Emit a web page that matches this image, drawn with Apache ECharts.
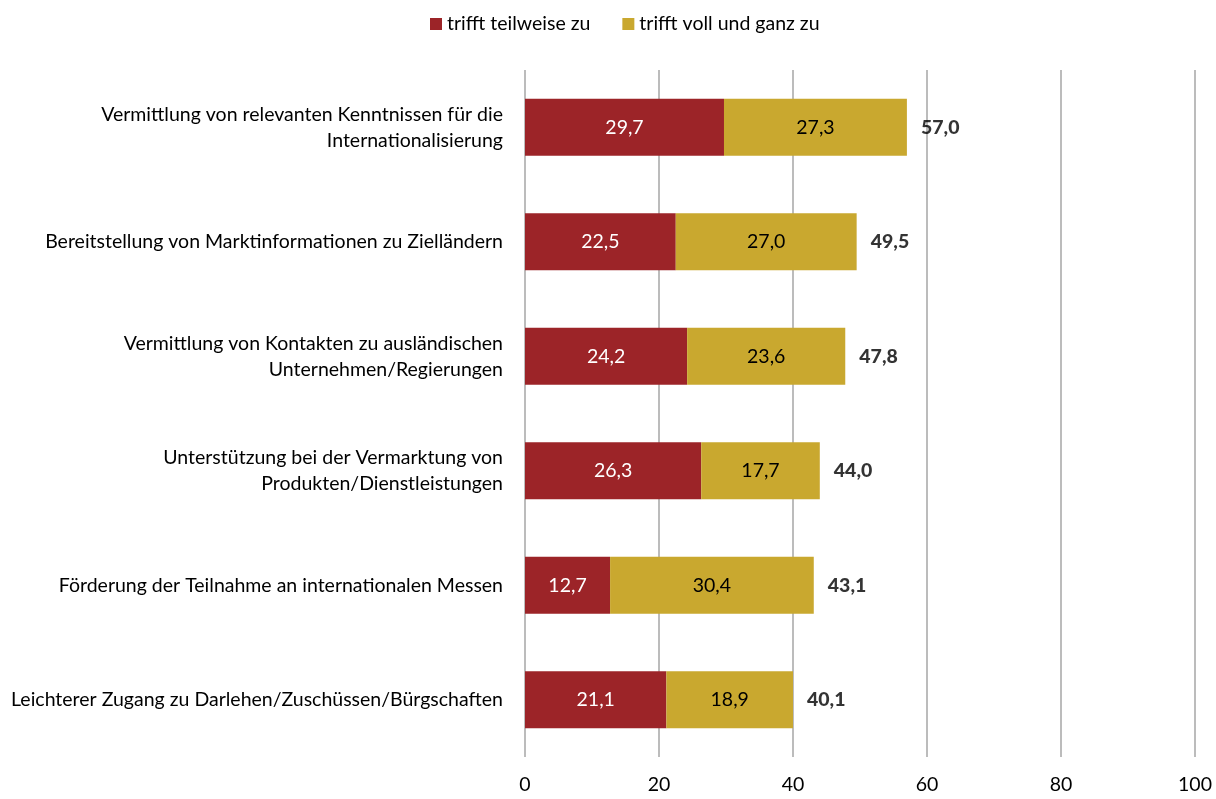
<!DOCTYPE html>
<html><head><meta charset="utf-8">
<script src="https://cdn.jsdelivr.net/npm/echarts@6/dist/echarts.min.js"></script>
<style>html,body{margin:0;padding:0;background:#fff}#c{width:1216px;height:799px}</style>
</head><body><div id="c"></div>
<script>
const categories = [
  "Vermittlung von relevanten Kenntnissen für die\nInternationalisierung",
  "Bereitstellung von Marktinformationen zu Zielländern",
  "Vermittlung von Kontakten zu ausländischen\nUnternehmen/Regierungen",
  "Unterstützung bei der Vermarktung von\nProdukten/Dienstleistungen",
  "Förderung der Teilnahme an internationalen Messen",
  "Leichterer Zugang zu Darlehen/Zuschüssen/Bürgschaften"
];
const teilweise = [29.7, 22.5, 24.2, 26.3, 12.7, 21.1];
const vollGanz = [27.3, 27.0, 23.6, 17.7, 30.4, 18.9];
const totals = [57.0, 49.5, 47.8, 44.0, 43.1, 40.1];
const xTicks = [0, 20, 40, 60, 80, 100];

const FONT = "Lato";
const FS = 19.5;
const fmt = v => v.toFixed(1).replace('.', ',');
const chart = echarts.init(document.getElementById('c'), null, {renderer: 'canvas'});
chart.setOption({
  animation: false,
  textStyle: {fontFamily: FONT},
  legend: {
    top: 9, left: 425, itemWidth: 12, itemHeight: 12, itemGap: 32,
    icon: 'rect',
    textStyle: {fontSize: FS, color: '#000', fontFamily: FONT},
    data: ['trifft teilweise zu', 'trifft voll und ganz zu']
  },
  grid: {left: 525, right: 21, top: 70, bottom: 42},
  xAxis: {
    type: 'value', min: xTicks[0], max: xTicks[xTicks.length - 1], interval: 20,
    axisLine: {show: false}, axisTick: {show: false},
    splitLine: {show: true, lineStyle: {color: '#a6a6a6', width: 1.5}},
    axisLabel: {fontSize: FS, color: '#000', margin: 18, fontFamily: FONT}
  },
  yAxis: {
    type: 'category', data: categories, inverse: true,
    axisLine: {show: false}, axisTick: {show: false},
    axisLabel: {fontSize: FS, color: '#000', margin: 22, lineHeight: 26, align: 'right', fontFamily: FONT}
  },
  series: [
    {
      name: 'trifft teilweise zu', type: 'bar', stack: 's', barWidth: 57,
      itemStyle: {color: '#9c2428'},
      label: {show: true, position: 'inside', color: '#fff', fontSize: FS, fontFamily: FONT, formatter: p => fmt(p.value)},
      data: teilweise
    },
    {
      name: 'trifft voll und ganz zu', type: 'bar', stack: 's', barWidth: 57,
      itemStyle: {color: '#c9a82f'},
      label: {show: true, position: 'inside', color: '#000', fontSize: FS, fontFamily: FONT, formatter: p => fmt(p.value)},
      data: vollGanz
    },
    {
      name: 'Summe', type: 'scatter', symbolSize: 0, silent: true,
      label: {show: true, position: 'right', distance: 14, color: '#000', fontSize: FS, fontWeight: 900, fontFamily: FONT,
        formatter: p => fmt(totals[p.dataIndex])},
      data: teilweise.map((v, i) => [v + vollGanz[i], i])
    }
  ]
});
</script></body></html>
